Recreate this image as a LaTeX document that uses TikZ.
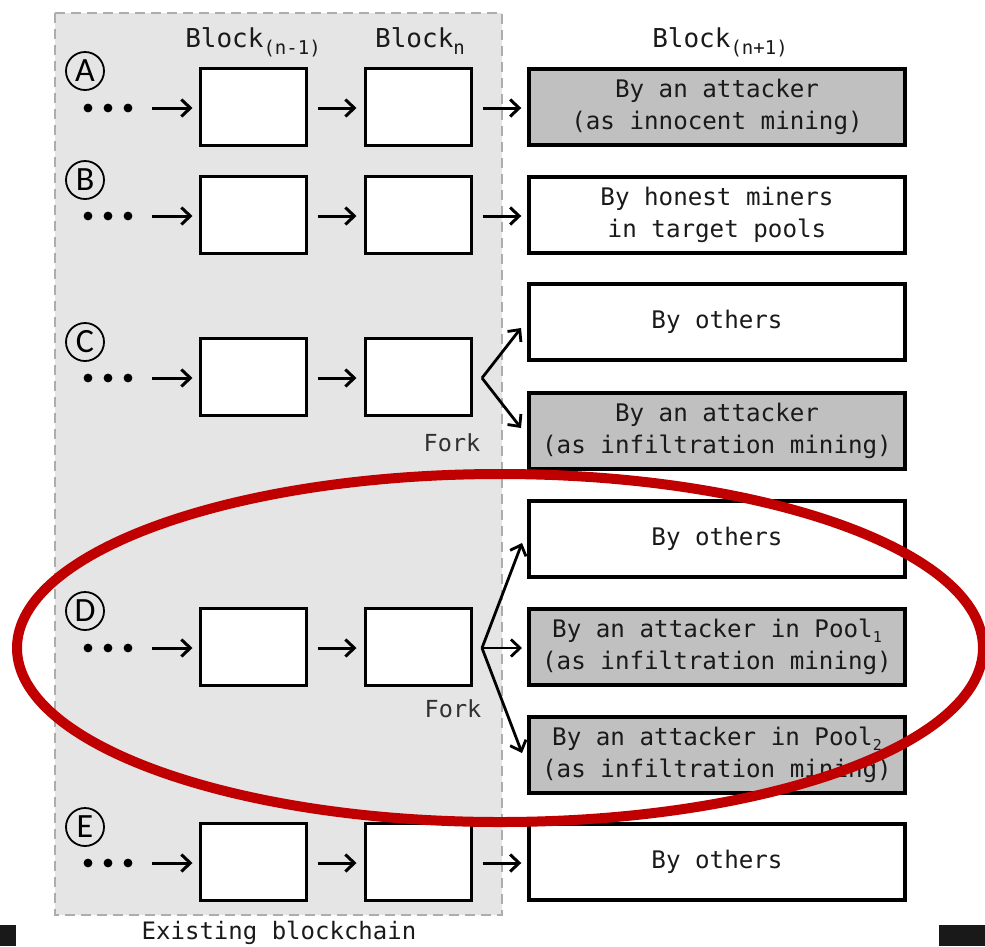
\documentclass[tikz,border=0pt]{standalone}
\usepackage{fontspec}
\setmonofont{DejaVu Sans Mono}
\newfontfamily\circfont{Carlito}
\usetikzlibrary{arrows.meta}
\definecolor{regionfill}{HTML}{E5E5E5}
\definecolor{regionline}{HTML}{ADADAD}
\definecolor{attackfill}{HTML}{C0C0C0}
\definecolor{inktext}{HTML}{1A1A1A}
\definecolor{markred}{HTML}{C00000}
\begin{document}
\begin{tikzpicture}[x=1pt,y=-1pt,
  blk/.style={draw=black, fill=white, line width=3pt, minimum width=106pt, minimum height=77pt, inner sep=0pt},
  minedbox/.style={draw=black, line width=3.4pt, minimum width=376pt, minimum height=76pt, inner sep=0pt,
    align=center, text=inktext, font=\ttfamily\fontsize{24.2}{32}\selectfont},
  honest/.style={minedbox, fill=white},
  attack/.style={minedbox, fill=attackfill},
  arr/.style={-{Straight Barb[length=9pt,width=17pt,line width=3pt]}, line width=3pt},
  forkarr/.style={-{Straight Barb[length=9pt,width=17pt,line width=2.8pt]}, line width=2.8pt},
  rowlabel/.style={draw=black, circle, line width=1.8pt, minimum size=38pt, inner sep=0pt,
    font=\circfont\fontsize{34}{34}\selectfont},
  heading/.style={font=\ttfamily\fontsize{26}{26}\selectfont, text=inktext},
  note/.style={font=\ttfamily\fontsize{23.5}{23.5}\selectfont, text=inktext!90}
]
\useasboundingbox (0,0) rectangle (985,946);

% region of the existing chain
\draw[regionline, fill=regionfill, line width=2pt, dash pattern=on 10pt off 6pt]
  (55,13) rectangle (502,915);

% column headings
\node[heading, anchor=base] (hprev) at (253,47) {Block\raisebox{-7pt}{\fontsize{19}{19}\selectfont (n-1)}};
\node[heading, anchor=base] (hcur) at (420,47) {Block\raisebox{-7pt}{\fontsize{19}{19}\selectfont n}};
\node[heading, anchor=base] (hnext) at (720,47) {Block\raisebox{-7pt}{\fontsize{19}{19}\selectfont (n+1)}};

% the five chains: dots, Block(n-1), Block(n)
\foreach \r/\y/\ly in {A/107/71, B/215/180, C/377/342, D/647/611, E/862/827} {
  \node[rowlabel] (lab\r) at (85,\ly) {\r};
  \foreach \dx in {88,108,128} \fill (\dx,\y+1) circle (4.4pt);
  \coordinate (s\r) at (152,\y+1);
  \node[blk] (p\r) at (253,\y) {};
  \node[blk] (n\r) at (418,\y) {};
  \draw[arr, shorten >=6pt] (s\r) -- (p\r.west |- s\r);
  \draw[arr, shorten <=10pt, shorten >=7pt] (p\r.east |- s\r) -- (n\r.west |- s\r);
}

% Block(n+1) candidates
\node[attack] (mA) at (717,107) {By an attacker\\(as innocent mining)};
\node[honest] (mB) at (717,215) {By honest miners\\in target pools};
\node[honest] (mC1) at (717,322) {By others};
\node[attack] (mC2) at (717,431) {By an attacker\\(as infiltration mining)};
\node[honest] (mD1) at (717,539) {By others};
\node[attack] (mD2) at (717,647) {By an attacker in Pool\raisebox{-5pt}{\fontsize{15}{15}\selectfont 1}\\(as infiltration mining)};
\node[attack] (mD3) at (717,755) {By an attacker in Pool\raisebox{-5pt}{\fontsize{15}{15}\selectfont 2}\\(as infiltration mining)};
\node[honest] (mE) at (717,862) {By others};

% single successors
\foreach \r in {A,B,E}
  \draw[arr, shorten <=10pt, shorten >=6pt] (n\r.east |- s\r) -- (m\r.west |- s\r);

% fork in row C
\coordinate (fC) at (482,378);
\coordinate (tC1) at (521,328);
\coordinate (tC2) at (521,428);
\draw[forkarr] (fC) -- (tC1);
\draw[forkarr] (fC) -- (tC2);
\node[note] (forkC) at (452,443) {Fork};

% fork in row D
\coordinate (fD) at (482,648);
\coordinate (tD1) at (522,543);
\coordinate (tD2) at (522,648);
\coordinate (tD3) at (522,753);
\draw[forkarr] (fD) -- (tD1);
\draw[forkarr] (fD) -- (tD2);
\draw[forkarr] (fD) -- (tD3);
\node[note] (forkD) at (453,709) {Fork};

\node[heading, font=\ttfamily\fontsize{24}{24}\selectfont] (caption) at (279,933) {Existing blockchain};

% highlight around case D
\draw[markred, line width=10pt] (500,648) ellipse [x radius=483, y radius=174];

% corner patches
\fill[black!90] (0,925) rectangle (16,946);
\fill[black!90] (939,925) rectangle (985,946);
\end{tikzpicture}
\end{document}
